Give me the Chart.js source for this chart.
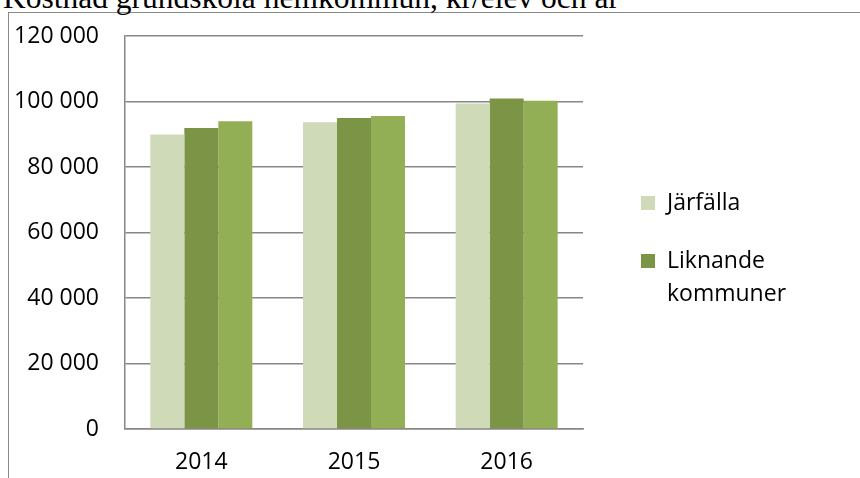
<!DOCTYPE html>
<html lang="sv">
<head>
<meta charset="utf-8">
<title>Kostnad grundskola hemkommun</title>
<script src="https://cdn.jsdelivr.net/npm/chart.js@4/dist/chart.umd.min.js"></script>
<style>
    html, body { margin: 0; padding: 0; background: #fff; overflow: hidden; }
    body { width: 860px; height: 478px; position: relative; }
    #rubrik {
        position: absolute; left: 3px; top: -18px; z-index: 2;
        font-family: "Liberation Serif", "Times New Roman", serif;
        font-size: 31.5px; line-height: 1; white-space: nowrap; color: #000;
    }
    #ram {
        position: absolute; left: 8px; top: 12px; width: 900px; height: 500px;
        border: 1px solid #8a8a8a; background: #fff; z-index: 1;
    }
    #diagram { position: absolute; left: 9px; top: 13px; z-index: 3; }
</style>
</head>
<body>
<div id="rubrik">Kostnad grundskola hemkommun, kr/elev och år</div>
<div id="ram"></div>
<canvas id="diagram" width="851" height="465"></canvas>

<script>
// år och kostnad per elev (kr)
const years = ["2014", "2015", "2016"];
const jarfalla = [89900, 93700, 99400];
const liknande = [91900, 95000, 100900];
const allaKommuner = [94000, 95600, 100200];

const seriesNames = ["Järfälla", "Liknande kommuner", "Alla kommuner"];
const seriesColors = ["#cfdbb8", "#7b9445", "#93af55"];

// y-axeln
const yMax = 120000;
const yStep = 20000;

const fontFamily = "'Open Sans', 'Noto Sans', sans-serif";
const gridColor = "#878787";

// 120000 -> "120 000"
function formatNumber(v) {
    return String(v).replace(/\B(?=(\d{3})+(?!\d))/g, " ");
}

// förklaring till höger om diagrammet, bara de två första serierna
const sideLegend = {
    id: "sideLegend",
    afterDraw(chart) {
        const ctx = chart.ctx;
        const area = chart.chartArea;
        const sqX = area.right + 58;
        const sqSize = 14;
        const lineHeight = 33;
        const maxWidth = 180;
        let y = area.top + 160;

        ctx.save();
        ctx.font = "23px " + fontFamily;
        ctx.textBaseline = "middle";
        ctx.textAlign = "left";

        chart.data.datasets.slice(0, 2).forEach(ds => {
            // enkel radbrytning
            const words = ds.label.split(" ");
            const lines = [];
            let current = "";
            words.forEach(w => {
                const test = current ? current + " " + w : w;
                if (current && ctx.measureText(test).width > maxWidth) {
                    lines.push(current);
                    current = w;
                } else {
                    current = test;
                }
            });
            lines.push(current);

            ctx.fillStyle = ds.backgroundColor;
            ctx.fillRect(sqX, y, sqSize, sqSize);

            ctx.fillStyle = "#000";
            lines.forEach((line, i) => {
                ctx.fillText(line, sqX + 26, y + 7 + i * lineHeight);
            });
            y += 58;
        });
        ctx.restore();
    }
};

const ctx = document.getElementById("diagram").getContext("2d");

new Chart(ctx, {
    type: "bar",
    data: {
        labels: years,
        datasets: [jarfalla, liknande, allaKommuner].map((values, i) => ({
            label: seriesNames[i],
            data: values,
            backgroundColor: seriesColors[i],
            borderWidth: 0,
            barPercentage: 1,
            categoryPercentage: 0.668
        }))
    },
    options: {
        responsive: false,
        animation: false,
        devicePixelRatio: 1,
        layout: { padding: { left: 0, top: 23, right: 277, bottom: 0 } },
        plugins: {
            legend: { display: false },
            title: { display: false },
            tooltip: { enabled: false }
        },
        scales: {
            x: {
                grid: { display: false, drawTicks: false },
                border: { display: true, color: gridColor, width: 1.5 },
                ticks: {
                    color: "#000",
                    padding: 20,
                    font: { family: fontFamily, size: 23 }
                },
                afterFit: scale => {
                    scale.height = 49;
                    scale.paddingLeft = 0;
                    scale.paddingRight = 0;
                }
            },
            y: {
                min: 0,
                max: yMax,
                grid: { color: gridColor, lineWidth: 1.5, drawTicks: false },
                border: { display: true, color: gridColor, width: 1.5 },
                ticks: {
                    stepSize: yStep,
                    padding: 26,
                    color: "#000",
                    font: { family: fontFamily, size: 23 },
                    callback: v => formatNumber(v)
                },
                afterFit: scale => {
                    scale.width = 116;
                    scale.paddingTop = 0;
                    scale.paddingBottom = 0;
                }
            }
        }
    },
    plugins: [sideLegend]
});
</script>
</body>
</html>
